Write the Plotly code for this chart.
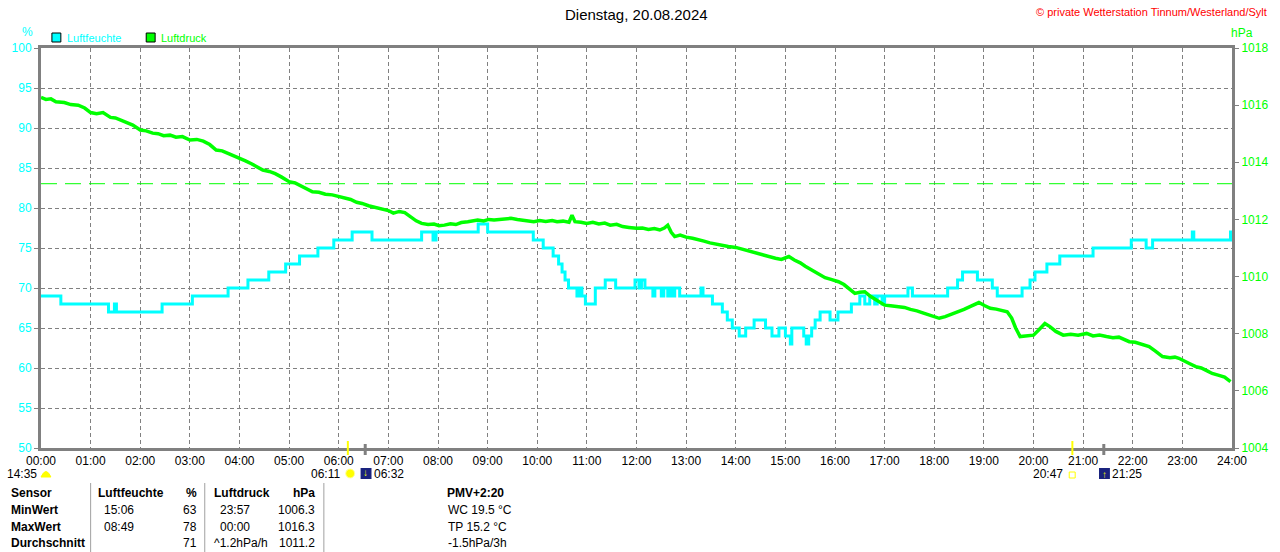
import plotly.graph_objects as go

# humidity (step values), hours since midnight
hum_t = [0.0, 0.4, 1.36, 1.48, 1.52, 2.44, 3.05, 3.77, 4.17, 4.59, 4.93, 5.21, 5.58, 5.9,
         6.27, 6.67, 7.67, 7.9, 7.96, 8.81, 9.0, 9.92, 10.12, 10.32, 10.43, 10.5, 10.56,
         10.63, 10.8, 10.85, 10.9, 10.97, 11.17, 11.37, 11.58, 11.97, 12.05, 12.1, 12.17,
         12.33, 12.37, 12.5, 12.55, 12.63, 12.67, 12.73, 12.77, 12.87, 12.93, 13.3, 13.34,
         13.53, 13.73, 13.83, 13.93, 14.07, 14.2, 14.37, 14.6, 14.73, 14.87, 15.0, 15.1,
         15.13, 15.37, 15.42, 15.47, 15.53, 15.6, 15.7, 15.9, 16.06, 16.33, 16.5, 16.6,
         16.7, 16.8, 16.85, 16.95, 17.0, 17.47, 17.56, 18.27, 18.47, 18.57, 18.87, 19.17,
         19.27, 19.77, 19.93, 20.03, 20.27, 20.53, 21.2, 21.97, 22.27, 22.4, 23.2, 23.23,
         23.97, 24.0]
hum_v = [69, 68, 67, 68, 67, 68, 69, 70, 71, 72, 73, 74, 75, 76,
         77, 76, 77, 76, 77, 78, 77, 76, 75, 74, 73, 72, 71,
         70, 69, 70, 69, 68, 70, 71, 70, 71, 70, 71, 70,
         69, 70, 69, 70, 69, 70, 69, 70, 69, 69, 70, 69,
         68, 67, 66, 65, 64, 65, 66, 65, 64, 65, 64, 63,
         65, 64, 63, 64, 65, 66, 67, 66, 67, 68, 69, 68,
         69, 68, 69, 68, 69, 70, 69, 70, 71, 72, 71, 70,
         69, 70, 71, 72, 73, 74, 75, 76, 75, 76, 77, 76,
         77, 77]

# air pressure, hours since midnight (rows of six, times and values aligned)
prs_t = [0.0, 0.1, 0.2, 0.3, 0.47, 0.6,
         0.75, 0.88, 1.0, 1.12, 1.25, 1.4,
         1.5, 1.6, 1.72, 1.85, 2.0, 2.12,
         2.25, 2.36, 2.47, 2.6, 2.72, 2.85,
         3.0, 3.14, 3.27, 3.4, 3.53, 3.65,
         3.78, 3.9, 4.0, 4.12, 4.24, 4.36,
         4.47, 4.6, 4.72, 4.85, 5.0, 5.12,
         5.24, 5.36, 5.47, 5.6, 5.73, 5.87,
         6.0, 6.12, 6.24, 6.36, 6.47, 6.6,
         6.72, 6.85, 7.0, 7.1, 7.22, 7.33,
         7.45, 7.56, 7.67, 7.8, 7.92, 8.02,
         8.13, 8.25, 8.36, 8.47, 8.6, 8.7,
         8.8, 8.92, 9.02, 9.13, 9.25, 9.36,
         9.47, 9.6, 9.72, 9.82, 9.93, 10.05,
         10.17, 10.3, 10.4, 10.52, 10.64, 10.7,
         10.76, 10.88, 11.0, 11.12, 11.24, 11.36,
         11.47, 11.6, 11.72, 11.85, 12.0, 12.12,
         12.24, 12.36, 12.47, 12.56, 12.63, 12.7,
         12.77, 12.88, 13.0, 13.13, 13.25, 13.36,
         13.48, 13.6, 13.72, 13.85, 14.0, 14.12,
         14.24, 14.36, 14.47, 14.58, 14.7, 14.8,
         14.92, 15.0, 15.07, 15.18, 15.3, 15.4,
         15.47, 15.58, 15.7, 15.8, 15.92, 16.07,
         16.18, 16.3, 16.4, 16.5, 16.6, 16.72,
         16.85, 17.0, 17.12, 17.25, 17.4, 17.52,
         17.65, 17.8, 17.95, 18.1, 18.22, 18.35,
         18.47, 18.6, 18.72, 18.82, 18.9, 19.02,
         19.13, 19.25, 19.37, 19.47, 19.56, 19.64,
         19.73, 19.85, 20.0, 20.1, 20.23, 20.33,
         20.45, 20.6, 20.75, 20.9, 21.07, 21.2,
         21.33, 21.47, 21.6, 21.72, 21.83, 21.93,
         22.05, 22.18, 22.33, 22.45, 22.6, 22.75,
         22.85, 22.93, 23.05, 23.15, 23.27, 23.38,
         23.5, 23.6, 23.72, 23.85, 23.97]
prs_v = [1016.27, 1016.2, 1016.22, 1016.12, 1016.09, 1016.02,
         1016.0, 1015.9, 1015.74, 1015.7, 1015.74, 1015.57,
         1015.55, 1015.48, 1015.42, 1015.3, 1015.13, 1015.1,
         1015.02, 1015.0, 1014.93, 1014.95, 1014.88, 1014.9,
         1014.78, 1014.8, 1014.74, 1014.62, 1014.43, 1014.4,
         1014.3, 1014.22, 1014.14, 1014.05, 1013.95, 1013.85,
         1013.73, 1013.68, 1013.6, 1013.48, 1013.32, 1013.28,
         1013.18, 1013.05, 1012.97, 1012.95, 1012.88, 1012.86,
         1012.8, 1012.74, 1012.7, 1012.6, 1012.56, 1012.48,
         1012.42, 1012.36, 1012.31, 1012.22, 1012.28, 1012.24,
         1012.1, 1011.95, 1011.86, 1011.82, 1011.84, 1011.78,
         1011.8, 1011.85, 1011.82, 1011.89, 1011.92, 1011.96,
         1011.98, 1011.95, 1012.0, 1011.98, 1012.0, 1012.02,
         1012.04, 1012.0, 1011.98, 1011.95, 1011.92, 1011.96,
         1011.93, 1011.96, 1011.92, 1011.94, 1011.9, 1012.15,
         1011.92, 1011.9, 1011.86, 1011.9, 1011.84, 1011.87,
         1011.8, 1011.83, 1011.75, 1011.72, 1011.69, 1011.7,
         1011.65, 1011.68, 1011.63, 1011.7, 1011.8, 1011.55,
         1011.4, 1011.45, 1011.38, 1011.34, 1011.3, 1011.24,
         1011.18, 1011.13, 1011.1, 1011.05, 1011.02, 1010.96,
         1010.92, 1010.85, 1010.81, 1010.76, 1010.7, 1010.64,
         1010.6, 1010.66, 1010.7, 1010.58, 1010.48, 1010.36,
         1010.29, 1010.18, 1010.05, 1009.96, 1009.9, 1009.82,
         1009.72, 1009.55, 1009.41, 1009.45, 1009.47, 1009.3,
         1009.15, 1009.0, 1008.98, 1008.94, 1008.92, 1008.85,
         1008.8, 1008.71, 1008.62, 1008.54, 1008.6, 1008.68,
         1008.77, 1008.85, 1008.95, 1009.02, 1009.09, 1008.98,
         1008.89, 1008.86, 1008.8, 1008.77, 1008.55, 1008.2,
         1007.9, 1007.92, 1007.95, 1008.12, 1008.36, 1008.25,
         1008.08, 1007.95, 1007.98, 1007.95, 1008.01, 1007.92,
         1007.95, 1007.9, 1007.86, 1007.88, 1007.8, 1007.72,
         1007.7, 1007.62, 1007.55, 1007.4, 1007.2, 1007.16,
         1007.18, 1007.14, 1007.02, 1006.95, 1006.85, 1006.8,
         1006.7, 1006.61, 1006.55, 1006.48, 1006.32]

std_pressure = 1013.25

hour_ticks = list(range(25))
hour_labels = [f"{h:02d}:00" for h in hour_ticks]

sunrise, moonset = "06:11", "06:32"
sunset, moonrise = "20:47", "21:25"
day_length = "14:35"

table_rows = ["Sensor", "MinWert", "MaxWert", "Durchschnitt"]
hum_times = ["", "15:06", "08:49", ""]
hum_vals = ["%", "63", "78", "71"]
prs_times = ["Luftdruck", "23:57", "00:00", "^1.2hPa/h"]
prs_vals = ["hPa", "1006.3", "1016.3", "1011.2"]
extra = ["PMV+2:20", "WC 19.5 °C", "TP 15.2 °C", "-1.5hPa/3h"]

CYAN = "#00ffff"
GREEN = "#00ff00"
GRAY = "#808080"
FONT = "Liberation Sans"

W, H = 1280, 552
L, R, T, B = 40, 40, 48, 104


def px(x):
    return (x - L) / (W - L - R)


def py(y):
    return (H - B - y) / (H - T - B)


def hrs(s):
    h, m = s.split(":")
    return int(h) + int(m) / 60


fig = go.Figure()
fig.add_trace(go.Scatter(x=hum_t, y=hum_v, mode="lines", line=dict(color=CYAN, width=3, shape="hv"),
                         name="Luftfeuchte", yaxis="y"))
fig.add_trace(go.Scatter(x=[0, 24], y=[std_pressure, std_pressure], mode="lines",
                         line=dict(color=GREEN, width=1, dash="16px,8px"), yaxis="y2"))
fig.add_trace(go.Scatter(x=prs_t, y=prs_v, mode="lines", line=dict(color=GREEN, width=3.5),
                         name="Luftdruck", yaxis="y2"))

ann = []
shapes = []


def text(x, y, s, color="black", size=12, anchor="left", bold=False):
    if bold:
        s = "<b>" + s + "</b>"
    ann.append(dict(x=px(x), y=py(y), xref="paper", yref="paper", text=s, showarrow=False,
                    xanchor=anchor, yanchor="middle", font=dict(color=color, size=size, family=FONT)))


text(640, 15, "Dienstag, 20.08.2024", size=15, anchor="center")
text(1277, 12, "© private Wetterstation Tinnum/Westerland/Sylt", color="red", size=11, anchor="right")
text(26, 32, "%", color=CYAN, anchor="center")
text(1250, 33, "hPa", color=GREEN, anchor="center")

# legend boxes
for x0, col, label in [(51, CYAN, "Luftfeuchte"), (146, GREEN, "Luftdruck")]:
    shapes.append(dict(type="rect", xref="paper", yref="paper", x0=px(x0), x1=px(x0 + 9),
                       y0=py(42), y1=py(33), fillcolor=col, line=dict(color="black", width=1)))
    text(x0 + 13, 38, label, color=col, size=11)

# sun / moon markers on the time axis
for t, col in [(sunrise, "yellow"), (sunset, "yellow"), (moonset, GRAY), (moonrise, GRAY)]:
    shapes.append(dict(type="line", xref="x", yref="paper", x0=hrs(t), x1=hrs(t),
                       y0=py(455), y1=py(441) if col == "yellow" else py(444),
                       line=dict(color=col, width=3 if col == GRAY else 2)))

text(38, 474, day_length, anchor="right")
shapes.append(dict(type="path", xref="paper", yref="paper",
                   path=f"M {px(40)},{py(477)} Q {px(45)},{py(466)} {px(50)},{py(477)} Z",
                   fillcolor="yellow", line=dict(color="yellow", width=1)))
text(343, 474, sunrise, anchor="right")
shapes.append(dict(type="circle", xref="paper", yref="paper", x0=px(347), x1=px(356),
                   y0=py(478), y1=py(469), fillcolor="yellow", line=dict(color="#ffffa0", width=1)))
shapes.append(dict(type="rect", xref="paper", yref="paper", x0=px(362), x1=px(373),
                   y0=py(479), y1=py(468), fillcolor="#1a237e", line=dict(width=0)))
text(367, 472, "↓", color="yellow", size=10, anchor="center", bold=True)
text(373, 474, moonset)
text(1072, 474, sunset, anchor="right")
shapes.append(dict(type="rect", xref="paper", yref="paper", x0=px(1076), x1=px(1082),
                   y0=py(478), y1=py(472), fillcolor="white", line=dict(color="yellow", width=1)))
shapes.append(dict(type="rect", xref="paper", yref="paper", x0=px(1106), x1=px(1117),
                   y0=py(479), y1=py(468), fillcolor="#1a237e", line=dict(width=0)))
text(1112, 475, "↑", color="yellow", size=10, anchor="center", bold=True)
text(1117, 474, moonrise)

# statistics table
for xv in [90, 205, 325]:
    shapes.append(dict(type="line", xref="paper", yref="paper", x0=px(xv), x1=px(xv),
                       y0=py(483), y1=py(552), line=dict(color="#a0a0a0", width=1)))
row_y = [493, 510, 527, 543]
for i, yv in enumerate(row_y):
    head = i == 0
    text(8, yv, table_rows[i], bold=True, size=12)
    text(95 if head else 101, yv, "Luftfeuchte" if head else hum_times[i], bold=head, size=12)
    text(199, yv, hum_vals[i], anchor="right", bold=head, size=12)
    text(212 if head or i == 3 else 218, yv, prs_times[i], bold=head, size=12)
    text(318, yv, prs_vals[i], anchor="right", bold=head, size=12)
    text(478 if head else 448, yv, extra[i], anchor="center" if head else "left", bold=head, size=12)

fig.update_layout(
    width=W, height=H,
    margin=dict(l=L, r=R, t=T, b=B),
    paper_bgcolor="white", plot_bgcolor="white",
    showlegend=False,
    font=dict(family=FONT, size=12, color="black"),
    annotations=ann, shapes=shapes,
    xaxis=dict(range=[0, 24], tickvals=hour_ticks, ticktext=hour_labels, showgrid=True,
               gridcolor=GRAY, griddash="4px,3px", gridwidth=1, zeroline=False,
               showline=True, linecolor=GRAY, linewidth=3, mirror=True, ticks="",
               tickfont=dict(size=12, color="black")),
    yaxis=dict(range=[50, 100], dtick=5, showgrid=True, gridcolor=GRAY, griddash="4px,3px",
               gridwidth=1, zeroline=False, showline=True, linecolor=GRAY, linewidth=3,
               ticks="outside", ticklen=4, tickcolor=GRAY, tickfont=dict(color=CYAN, size=12)),
    yaxis2=dict(range=[1004, 1018], dtick=2, overlaying="y", side="right", showgrid=False,
                zeroline=False, showline=True, linecolor=GRAY, linewidth=3,
                ticks="outside", ticklen=4, tickcolor=GRAY, tickfont=dict(color=GREEN, size=12)),
)

fig.write_html("out.html", config={"displayModeBar": False},
               post_script="document.body.style.margin='0';")
